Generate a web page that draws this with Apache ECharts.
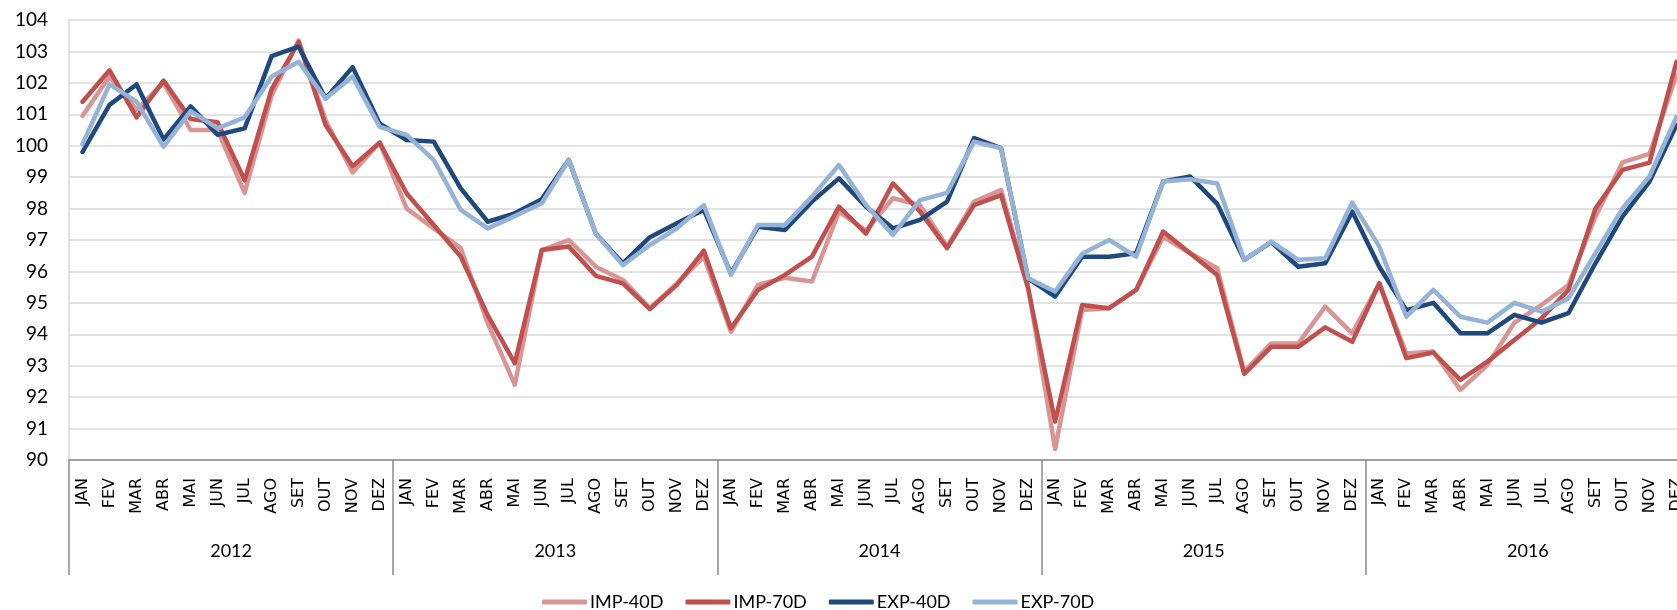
<!DOCTYPE html>
<html>
<head>
<meta charset="utf-8">
<script src="https://cdn.jsdelivr.net/npm/echarts@6/dist/echarts.min.js"></script>
<style>
html,body{margin:0;padding:0;background:#fff;}
#chart{width:1677px;height:610px;}
</style>
</head>
<body>
<div id="chart"></div>
<script>
var years = ['2012','2013','2014','2015','2016'];
var monthNames = ['JAN','FEV','MAR','ABR','MAI','JUN','JUL','AGO','SET','OUT','NOV','DEZ'];
var yTicks = [90,91,92,93,94,95,96,97,98,99,100,101,102,103,104];

var imp40 = [
  100.95,102.2,101.15,102.0,100.5,100.5,98.5,101.6,103.35,100.8,99.15,100.1,
  98.0,97.37,96.74,94.35,92.4,96.68,97.0,96.15,95.73,94.83,95.62,96.47,
  94.08,95.57,95.8,95.68,97.9,97.3,98.33,98.11,96.79,98.22,98.59,95.52,
  90.35,94.77,94.83,95.41,97.1,96.58,96.1,92.81,93.71,93.71,94.88,94.03,
  95.62,93.39,93.45,92.23,93.02,94.37,94.93,95.57,97.74,99.47,99.74,102.25
];
var imp70 = [
  101.4,102.4,100.9,102.07,100.85,100.75,98.9,101.8,103.3,100.65,99.35,100.1,
  98.48,97.48,96.47,94.6,93.08,96.68,96.79,95.86,95.62,94.8,95.57,96.66,
  94.19,95.41,95.89,96.47,98.06,97.2,98.8,97.9,96.74,98.11,98.43,95.46,
  91.22,94.93,94.83,95.41,97.27,96.58,95.89,92.74,93.6,93.6,94.22,93.76,
  95.62,93.24,93.42,92.55,93.13,93.82,94.5,95.41,98.0,99.23,99.46,102.67
];
var exp40 = [
  99.8,101.3,101.95,100.2,101.25,100.35,100.55,102.85,103.15,101.5,102.5,100.7,
  100.18,100.13,98.64,97.58,97.85,98.3,99.55,97.2,96.26,97.09,97.53,97.96,
  95.94,97.42,97.32,98.22,98.96,98.06,97.37,97.64,98.22,100.24,99.92,95.78,
  95.2,96.47,96.47,96.58,98.86,99.02,98.15,96.37,96.93,96.15,96.26,97.9,
  96.15,94.77,95.0,94.03,94.03,94.62,94.37,94.67,96.26,97.74,98.86,100.66
];
var exp70 = [
  100.05,101.95,101.4,99.97,101.1,100.55,100.9,102.2,102.67,101.5,102.2,100.6,
  100.34,99.55,97.96,97.37,97.76,98.17,99.55,97.2,96.2,96.84,97.37,98.11,
  95.89,97.48,97.48,98.38,99.39,98.11,97.16,98.27,98.5,100.13,99.92,95.78,
  95.36,96.56,97.0,96.47,98.86,98.93,98.8,96.37,96.95,96.37,96.42,98.19,
  96.79,94.56,95.41,94.56,94.37,95.0,94.72,95.14,96.58,98.0,99.02,100.92
];

var seriesNames = ['IMP-40D','IMP-70D','EXP-40D','EXP-70D'];
var seriesColors = ['#D99594','#C0504D','#1F497D','#95B3D7'];
var seriesData = [imp40, imp70, exp40, exp70];

var months = [];
years.forEach(function(y){ monthNames.forEach(function(m){ months.push(m); }); });

var chart = echarts.init(document.getElementById('chart'));
chart.setOption({
  animation: false,
  backgroundColor: '#ffffff',
  grid: { left: 69, top: 20, width: 1621, height: 440, containLabel: false, outerBoundsMode: 'none' },
  legend: {
    left: 537, top: 588,
    itemWidth: 45, itemHeight: 5, itemGap: 22,
    icon: 'roundRect',
    textStyle: { fontFamily: 'Lato', fontSize: 18, color: '#000', padding: [0,0,0,-2] },
    data: seriesNames
  },
  xAxis: [
    {
      type: 'category', data: months, position: 'bottom', boundaryGap: true,
      axisLine: { show: true, lineStyle: { color: '#8c8c8c', width: 1.5 } },
      axisTick: { show: false },
      splitLine: { show: false },
      axisLabel: { interval: 0, rotate: 90, margin: 18, fontFamily: 'DejaVu Sans', fontSize: 16, color: '#000' }
    },
    {
      type: 'category', data: years, position: 'bottom', boundaryGap: true,
      axisLine: { show: false },
      axisTick: { show: true, length: 115, lineStyle: { color: '#8c8c8c', width: 1.5 } },
      splitLine: { show: false },
      axisLabel: { interval: 0, margin: 82, fontFamily: 'Lato', fontSize: 18, color: '#000' }
    }
  ],
  yAxis: {
    type: 'value', min: yTicks[0], max: yTicks[yTicks.length-1], interval: 1,
    axisLine: { show: true, lineStyle: { color: '#d9d9d9', width: 1.5 } },
    axisTick: { show: false },
    splitLine: { show: true, lineStyle: { color: '#d9d9d9', width: 1.5 } },
    axisLabel: { margin: 21, fontFamily: 'Lato', fontSize: 19, color: '#000' }
  },
  series: seriesNames.map(function(n, i){
    return {
      name: n, type: 'line', data: seriesData[i], xAxisIndex: 0,
      symbol: 'none', smooth: false,
      itemStyle: { color: seriesColors[i] },
      lineStyle: { color: seriesColors[i], width: 4.5, cap: 'round', join: 'round' },
      z: 2 + i
    };
  })
});
</script>
</body>
</html>
